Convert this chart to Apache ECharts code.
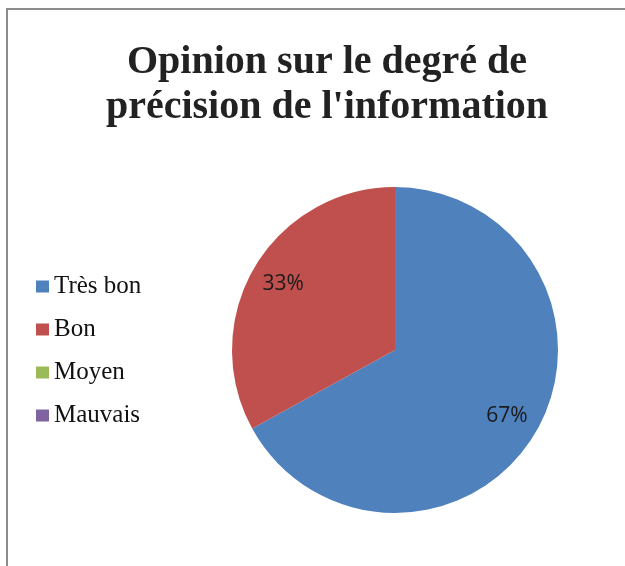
<!DOCTYPE html>
<html>
<head>
<meta charset="utf-8">
<script src="https://cdn.jsdelivr.net/npm/echarts@6/dist/echarts.min.js"></script>
<style>
  html, body { margin: 0; padding: 0; background: #fff; }
  #chart { width: 625px; height: 566px; }
</style>
</head>
<body>
<div id="chart"></div>
<script>
// camembert : opinion sur le degré de précision
var categories = ['Très bon', 'Bon', 'Moyen', 'Mauvais'];
var values = [67, 33, 0, 0];
var colors = ['#4F81BD', '#C0504D', '#9BBB59', '#8064A2'];

var chart = echarts.init(document.getElementById('chart'));

var pieData = categories.map(function (name, i) {
    return { name: name, value: values[i] };
});

var option = {
    color: colors,
    animation: false,
    title: {
        text: "Opinion sur le degré de\nprécision de l'information",
        left: 322,
        top: 35,
        textAlign: 'center',
        textStyle: {
            fontFamily: 'Liberation Serif',
            fontWeight: 'bold',
            fontSize: 40,
            lineHeight: 45,
            color: '#222'
        }
    },
    legend: {
        orient: 'vertical',
        left: 36,
        top: 274,
        padding: 0,
        itemWidth: 13,
        itemHeight: 12,
        itemGap: 18,
        icon: 'rect',
        data: categories,
        textStyle: {
            fontFamily: 'Liberation Serif',
            fontSize: 25,
            lineHeight: 25,
            color: '#111'
        }
    },
    graphic: [
        {
            type: 'rect',
            silent: true,
            shape: { x: 7, y: 9, width: 700, height: 700 },
            style: { fill: 'none', stroke: '#8c8c8c', lineWidth: 2 }
        }
    ],
    series: [
        {
            // secteurs
            type: 'pie',
            center: [395, 350],
            radius: 163,
            startAngle: 90,
            clockwise: true,
            label: { show: false },
            labelLine: { show: false },
            emphasis: { disabled: true },
            data: pieData
        },
        {
            // étiquettes de pourcentage, placées vers le bord
            type: 'pie',
            silent: true,
            center: [395, 350],
            radius: 254,
            startAngle: 90,
            clockwise: true,
            itemStyle: { color: 'rgba(0,0,0,0)' },
            label: {
                show: true,
                position: 'inside',
                fontFamily: 'Open Sans',
                fontSize: 21,
                color: '#1a1a1a',
                formatter: function (p) {
                    return p.value > 0 ? Math.round(p.percent) + '%' : '';
                }
            },
            labelLine: { show: false },
            emphasis: { disabled: true },
            data: pieData
        }
    ]
};
chart.setOption(option);
</script>
</body>
</html>
